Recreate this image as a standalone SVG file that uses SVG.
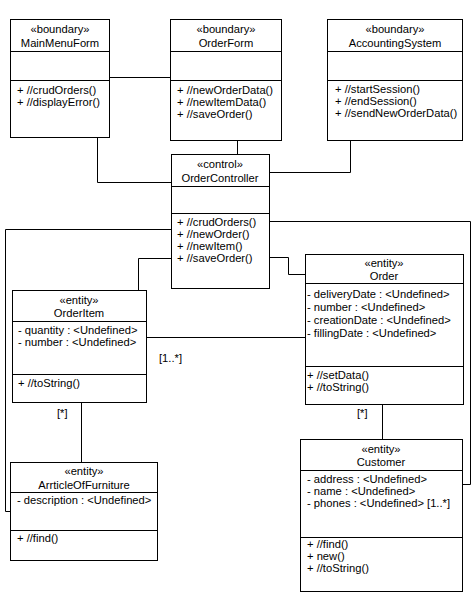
<svg xmlns="http://www.w3.org/2000/svg" width="472" height="595" viewBox="0 0 472 595">
<style>
  .box { fill: #ffffff; stroke: #000000; stroke-width: 1; }
  .div { stroke: #000000; stroke-width: 1; }
  .conn { fill: none; stroke: #000000; stroke-width: 1; }
  text { font-family: "Liberation Sans", Arial, sans-serif; font-size: 11.2px; fill: #000000; }
  .c { text-anchor: middle; }
</style>
<rect width="472" height="595" fill="#ffffff"/>
<g id="connectors">
  <path class="conn" d="M109.5,77.5 H170.5"/>
  <path class="conn" d="M97.5,137 V182.5 H171"/>
  <path class="conn" d="M237.5,140 V154"/>
  <path class="conn" d="M350.5,140 V172.5 H269"/>
  <path class="conn" d="M269,221.5 H470.5 V484.5 H462"/>
  <path class="conn" d="M171,229.5 H5.5 V511.5 H10"/>
  <path class="conn" d="M171,258.5 H138.5 V290"/>
  <path class="conn" d="M269,257.5 H288.5 V274.5 H305"/>
  <path class="conn" d="M146,337.5 H305"/>
  <path class="conn" d="M81.5,402 V462"/>
  <path class="conn" d="M382.5,404 V439"/>
  <text x="159" y="362">[1..*]</text>
  <text x="57" y="417">[*]</text>
  <text x="357" y="417">[*]</text>
</g>
<g id="MainMenuForm">
  <rect class="box" x="10.5" y="19.5" width="99" height="118"/>
  <line class="div" x1="10.5" y1="51.5" x2="109.5" y2="51.5"/>
  <line class="div" x1="10.5" y1="80.5" x2="109.5" y2="80.5"/>
  <text class="c" x="60" y="33">«boundary»</text>
  <text class="c" x="60" y="47">MainMenuForm</text>
  <text x="17" y="94">+ //crudOrders()</text>
  <text x="17" y="106">+ //displayError()</text>
</g>
<g id="OrderForm">
  <rect class="box" x="170.5" y="19.5" width="111" height="121"/>
  <line class="div" x1="170.5" y1="51.5" x2="281.5" y2="51.5"/>
  <line class="div" x1="170.5" y1="80.5" x2="281.5" y2="80.5"/>
  <text class="c" x="226" y="33">«boundary»</text>
  <text class="c" x="226" y="47">OrderForm</text>
  <text x="177" y="94">+ //newOrderData()</text>
  <text x="177" y="106">+ //newItemData()</text>
  <text x="177" y="118">+ //saveOrder()</text>
</g>
<g id="AccountingSystem">
  <rect class="box" x="327.5" y="19.5" width="135" height="121"/>
  <line class="div" x1="327.5" y1="51.5" x2="462.5" y2="51.5"/>
  <line class="div" x1="327.5" y1="80.5" x2="462.5" y2="80.5"/>
  <text class="c" x="395" y="33">«boundary»</text>
  <text class="c" x="395" y="47">AccountingSystem</text>
  <text x="335" y="93">+ //startSession()</text>
  <text x="335" y="105">+ //endSession()</text>
  <text x="335" y="117">+ //sendNewOrderData()</text>
</g>
<g id="OrderController">
  <rect class="box" x="171.5" y="154.5" width="98" height="134"/>
  <line class="div" x1="171.5" y1="186.5" x2="269.5" y2="186.5"/>
  <line class="div" x1="171.5" y1="213.5" x2="269.5" y2="213.5"/>
  <text class="c" x="220" y="168">«control»</text>
  <text class="c" x="220" y="182">OrderController</text>
  <text x="177" y="226">+ //crudOrders()</text>
  <text x="177" y="238">+ //newOrder()</text>
  <text x="177" y="250">+ //newItem()</text>
  <text x="177" y="262">+ //saveOrder()</text>
</g>
<g id="Order">
  <rect class="box" x="305.5" y="254.5" width="158" height="150"/>
  <line class="div" x1="305.5" y1="283.5" x2="463.5" y2="283.5"/>
  <line class="div" x1="305.5" y1="366.5" x2="463.5" y2="366.5"/>
  <text class="c" x="384" y="267">«entity»</text>
  <text class="c" x="384" y="280">Order</text>
  <text x="307" y="298">- deliveryDate : &lt;Undefined&gt;</text>
  <text x="307" y="311">- number : &lt;Undefined&gt;</text>
  <text x="307" y="324">- creationDate : &lt;Undefined&gt;</text>
  <text x="307" y="337">- fillingDate : &lt;Undefined&gt;</text>
  <text x="307" y="379">+ //setData()</text>
  <text x="307" y="391">+ //toString()</text>
</g>
<g id="OrderItem">
  <rect class="box" x="12.5" y="290.5" width="134" height="112"/>
  <line class="div" x1="12.5" y1="321.5" x2="146.5" y2="321.5"/>
  <line class="div" x1="12.5" y1="374.5" x2="146.5" y2="374.5"/>
  <text class="c" x="79" y="304">«entity»</text>
  <text class="c" x="79" y="317">OrderItem</text>
  <text x="18" y="334">- quantity : &lt;Undefined&gt;</text>
  <text x="18" y="346">- number : &lt;Undefined&gt;</text>
  <text x="18" y="387">+ //toString()</text>
</g>
<g id="ArrticleOfFurniture">
  <rect class="box" x="10.5" y="462.5" width="147" height="98"/>
  <line class="div" x1="10.5" y1="492.5" x2="157.5" y2="492.5"/>
  <line class="div" x1="10.5" y1="530.5" x2="157.5" y2="530.5"/>
  <text class="c" x="84" y="475">«entity»</text>
  <text class="c" x="84" y="489">ArrticleOfFurniture</text>
  <text x="17" y="504">- description : &lt;Undefined&gt;</text>
  <text x="17" y="542">+ //find()</text>
</g>
<g id="Customer">
  <rect class="box" x="300.5" y="439.5" width="162" height="152"/>
  <line class="div" x1="300.5" y1="470.5" x2="462.5" y2="470.5"/>
  <line class="div" x1="300.5" y1="537.5" x2="462.5" y2="537.5"/>
  <text class="c" x="381" y="453">«entity»</text>
  <text class="c" x="381" y="466">Customer</text>
  <text x="307" y="483">- address : &lt;Undefined&gt;</text>
  <text x="307" y="495">- name : &lt;Undefined&gt;</text>
  <text x="307" y="507">- phones : &lt;Undefined&gt; [1..*]</text>
  <text x="307" y="548">+ //find()</text>
  <text x="307" y="560">+ new()</text>
  <text x="307" y="572">+ //toString()</text>
</g>
</svg>
